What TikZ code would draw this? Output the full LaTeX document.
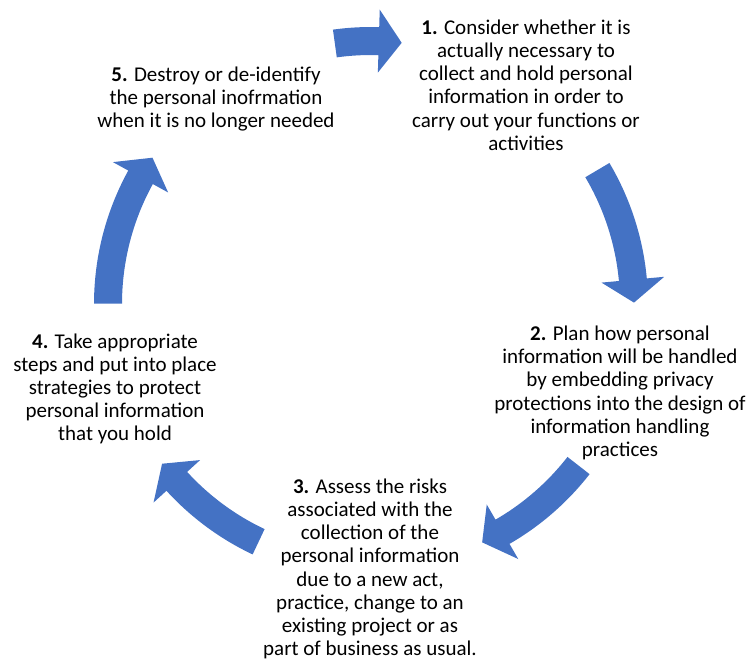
\documentclass[tikz,border=0pt]{standalone}
\usepackage{fontspec}
\setmainfont{Carlito}
\usetikzlibrary{positioning}
\definecolor{cycleblue}{RGB}{68,114,196}
\tikzset{
	steptext/.style={align=center, inner sep=0pt, font=\fontsize{21}{23.2}\selectfont},
	cyclearrow/.style={fill=cycleblue, draw=none}
}

\begin{document}
\begin{tikzpicture}[x=1pt,y=1pt]
	\useasboundingbox (0,0) rectangle (755,661);
	\coordinate (C) at (371,357);
	% block arrows round the cycle, start angle / tip angle
	\begin{scope}[shift={(C)}]
	\foreach \s/\e in {97.9/83.3, 30.6/0.3, -37.9/-65, 244.7/217.4, 179.9/146.2} {
		\path [cyclearrow] (\s:277) arc[start angle=\s, end angle=\e+5, radius=277]
			-- (\e+5:294.5) -- (\e:263) -- (\e+5:231.5) -- (\e+5:249)
			arc[start angle=\e+5, end angle=\s, radius=249] -- cycle;
	}
	\end{scope}

	\node [steptext] (consider) at (526,576) {\textbf{1.} Consider whether it is\\actually necessary to\\collect and hold personal\\information in order to\\carry out your functions or\\activities};
	\node [steptext] (plan) at (620,268) {\textbf{2.} Plan how personal\\information will be handled\\by embedding privacy\\protections into the design of\\information handling\\practices};
	\node [steptext] (assess) at (370,92) {\textbf{3.} Assess the risks\\associated with the\\collection of the\\personal information\\due to a new act,\\practice, change to an\\existing project or as\\part of business as usual.};
	\node [steptext] (protect) at (115,272) {\textbf{4.} Take appropriate\\steps and put into place\\strategies to protect\\personal information\\that you hold};
	\node [steptext] (destroy) at (216,562) {\textbf{5.} Destroy or de-identify\\the personal inofrmation\\when it is no longer needed};
\end{tikzpicture}
\end{document}
